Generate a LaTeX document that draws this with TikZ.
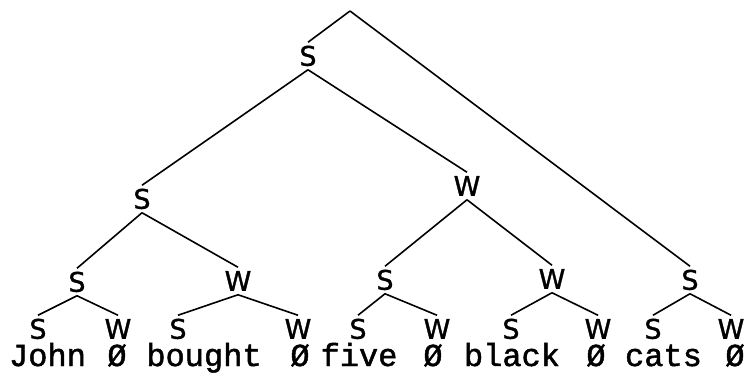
\documentclass[tikz,border=0pt]{standalone}
\usepackage{fontspec}
\usepackage{tikz}
\usetikzlibrary{positioning, calc}
\newfontfamily\labelfont[FakeBold=1.2]{DejaVu Sans}
\newfontfamily\wordfont[FakeBold=1.5]{Liberation Mono}

\begin{document}
\begin{tikzpicture}[x=1pt, y=-1pt, line width=1.6pt,
    lab/.style={font=\labelfont\fontsize{27}{27}\selectfont, inner sep=0pt, outer sep=4pt, text height=19.5pt, text depth=0pt},
    word/.style={font=\wordfont\fontsize{32}{32}\selectfont, inner sep=0pt, anchor=base, text height=18pt, text depth=5pt}]
    \useasboundingbox (0,0) rectangle (746,378);
    \coordinate (root) at (350,11);
    \node[lab] (rJohn) at (308,56) {S};
    \node[lab] (qJohn) at (142,199) {S};
    \node[lab] (qFive) at (467,186) {W};
    \node[lab] (pJohn) at (77,282) {S};
    \node[lab] (pBought) at (238,281) {W};
    \node[lab] (pFive) at (385,280) {S};
    \node[lab] (pBlack) at (552,279) {W};
    \node[lab] (pCats) at (690,280) {S};
    \foreach \name/\txt/\x in {lJohn/S/38, lNullA/W/118, lBought/S/178, lNullB/W/298, lFive/S/358,
        lNullC/W/437, lBlack/S/511, lNullD/W/598, lCats/S/653, lNullE/W/731}
        \node[lab] (\name) at (\x,329) {\txt};
    \foreach \w/\x [count=\i] in {John/47.5, Ø/117, bought/204, Ø/300, five/359,
        Ø/433, black/512, Ø/596, cats/663.5, Ø/735}
        \node[word] (word\i) at (\x,366) {\w};
    \draw (root) -- (rJohn.north);
    \draw (root) -- (pCats.north);
    \foreach \p/\c in {rJohn/qJohn, rJohn/qFive, qJohn/pJohn, qJohn/pBought, qFive/pFive, qFive/pBlack,
        pJohn/lJohn, pJohn/lNullA, pBought/lBought, pBought/lNullB, pFive/lFive, pFive/lNullC,
        pBlack/lBlack, pBlack/lNullD, pCats/lCats, pCats/lNullE}
        \draw (\p.south) -- (\c.north);
\end{tikzpicture}
\end{document}
